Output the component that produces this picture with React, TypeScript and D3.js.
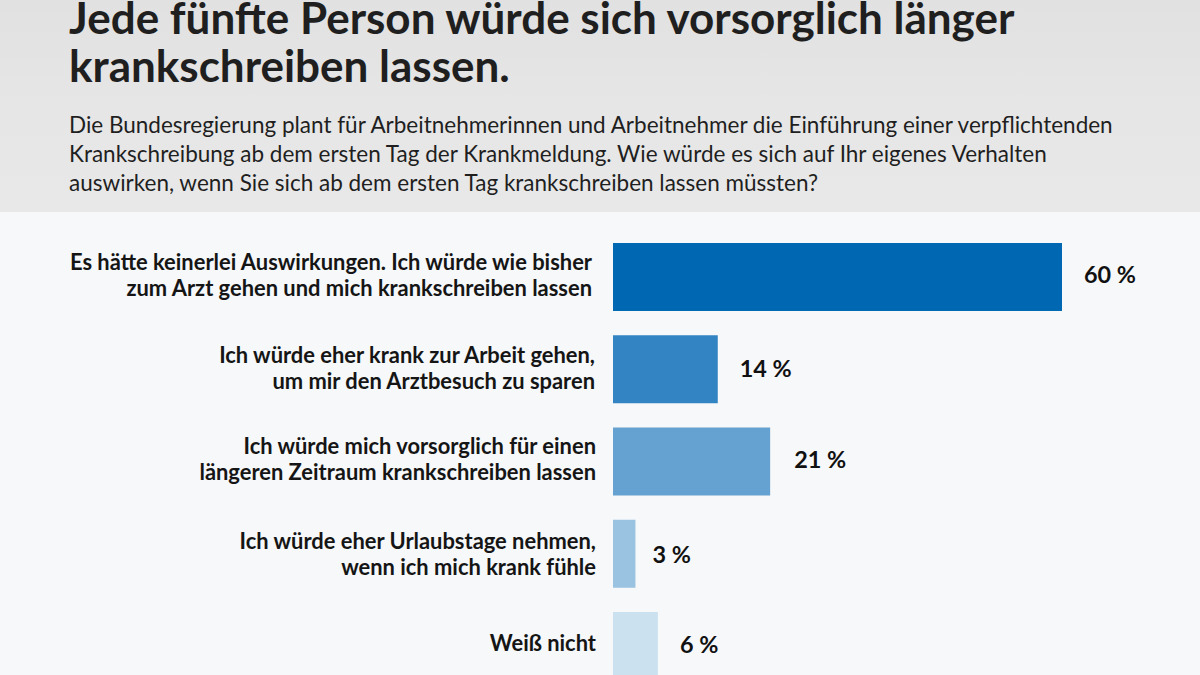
import React from "react";
import * as d3 from "d3";

const titleLines = ["Jede fünfte Person würde sich vorsorglich länger", "krankschreiben lassen."];
const subtitleLines = [
  "Die Bundesregierung plant für Arbeitnehmerinnen und Arbeitnehmer die Einführung einer verpflichtenden",
  "Krankschreibung ab dem ersten Tag der Krankmeldung. Wie würde es sich auf Ihr eigenes Verhalten",
  "auswirken, wenn Sie sich ab dem ersten Tag krankschreiben lassen müssten?",
];
const categories = [
  ["Es hätte keinerlei Auswirkungen. Ich würde wie bisher", "zum Arzt gehen und mich krankschreiben lassen"],
  ["Ich würde eher krank zur Arbeit gehen,", "um mir den Arztbesuch zu sparen"],
  ["Ich würde mich vorsorglich für einen", "längeren Zeitraum krankschreiben lassen"],
  ["Ich würde eher Urlaubstage nehmen,", "wenn ich mich krank fühle"],
  ["Weiß nicht"],
];
const values = [60, 14, 21, 3, 6];
const colors = ["#0068b3", "#3384c2", "#66a2d1", "#99c3e1", "#cce1f0"];

// small per-row nudges, the labels in the original are not quite on a grid
const labelRight = [592, 595, 596, 596, 596];
const labelDy = [6, 7, 5, 8, 5];
const valueDx = [22, 22, 24, 17, 22];
const valueDy = [6, 8, 6, 9, 7];

const WIDTH = 1200;
const HEIGHT = 675;
const FONT = "Lato, 'Open Sans', sans-serif";

export default function App() {
  const x = d3.scaleLinear().domain([0, 60]).range([613, 1062]);
  const y = d3.scaleBand<number>().domain(d3.range(values.length)).range([243, 680]).paddingInner(0.263).paddingOuter(0);

  return (
    <svg width={WIDTH} height={HEIGHT} viewBox={`0 0 ${WIDTH} ${HEIGHT}`}
      style={{ position: "fixed", left: 0, top: 0, fontFamily: FONT }}>
      <defs>
        <linearGradient id="head" x1="0" y1="0" x2="0" y2="1">
          <stop offset="0" stopColor="#e1e1e1" />
          <stop offset="0.5" stopColor="#e6e6e6" />
          <stop offset="1" stopColor="#e8e8e9" />
        </linearGradient>
      </defs>
      <rect width={WIDTH} height={HEIGHT} fill="#f6f8fa" />
      <rect width={WIDTH} height={212} fill="url(#head)" />
      {titleLines.map((t, i) => (
        <text key={i} x={69} y={34 + i * 48} fontSize={44} fontWeight={700} fill="#1f1f1f">{t}</text>
      ))}
      {subtitleLines.map((t, i) => (
        <text key={i} x={69} y={133 + i * 29} fontSize={22.5} fill="#1f1f1f">{t}</text>
      ))}
      {values.map((v, i) => {
        const y0 = y(i)!;
        const h = y.bandwidth();
        const lines = categories[i];
        const cy = y0 + h / 2;
        return (
          <g key={i}>
            <rect x={x(0)} y={y0} width={x(v) - x(0)} height={h} fill={colors[i]} />
            {lines.map((l, j) => (
              <text key={j} x={labelRight[i]} y={cy + labelDy[i] + (j - (lines.length - 1) / 2) * 26}
                textAnchor="end" fontSize={21.9} fontWeight={700} fill="#151515">{l}</text>
            ))}
            <text x={x(v) + valueDx[i]} y={cy + valueDy[i]} fontSize={23.4} fontWeight={700} fill="#111">{v} %</text>
          </g>
        );
      })}
    </svg>
  );
}
